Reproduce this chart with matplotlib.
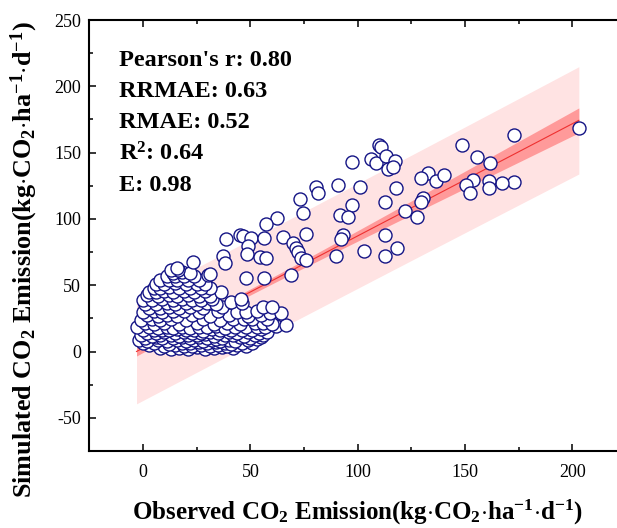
# Observed vs simulated CO2 emission, with linear fit, 95% CI and PI bands

import matplotlib
matplotlib.use('Agg')
import matplotlib.pyplot as plt
from matplotlib.ticker import MultipleLocator
import numpy as np

# ------ Data (observed, simulated) ------
# sparse points above the dense cluster
upper_pts = [
    (203, 168.3), (173, 163), (148.8, 155.7), (155.6, 146.5), (161.5, 142),
    (173, 128), (167, 126.8), (161, 128.8), (161, 123), (153.7, 129.3),
    (150.3, 125.6), (152.5, 119.8), (132.7, 134.9), (129.3, 131), (136.7, 128.8),
    (140.2, 133), (130.4, 115.5), (129.7, 113), (121.9, 106.2), (127.8, 101.7),
    (118, 123), (112.9, 112.5), (101, 124), (109.8, 155.7), (110.8, 154),
    (106, 145), (108.7, 142), (113.4, 147.7), (117.2, 143.9), (114.1, 137.6),
    (116.4, 139.4), (112.6, 87.9), (118.3, 78.3), (102.8, 75.8), (112.6, 72),
    (97.5, 142.7), (80.8, 123.8), (81.5, 119.8), (90.8, 125.6), (73, 115),
    (74.5, 104.2), (97.5, 110.5), (91.6, 103), (95.5, 101.7), (62.4, 100.5),
    (57.5, 96.2), (76.1, 89), (93.2, 87.8), (92.4, 84.6), (89.8, 72.3),
    (38.8, 84.6), (45.4, 87.9), (46.6, 87.1), (50.5, 85.4), (56.2, 85.4),
    (65.2, 86.6), (48.9, 79.6), (48.4, 73.3), (37.3, 72), (38.4, 67),
    (54.4, 71.5), (57.5, 70.3), (69.9, 81.6), (71.1, 77.8), (72.2, 75.2),
    (73.8, 70.3), (76.1, 69), (69.1, 57.7), (23.3, 67.7), (48.2, 55.2),
    (56.4, 55.2), (31.1, 58.4), (16.3, 61.5), (13.2, 61.5), (16, 62.7),
]

# dense cluster near the origin (lower band)
cluster_low = [
    (8, 2.4), (13, 1.8), (17, 2.9), (21, 2.2), (25, 3.1), (29, 1.9), (33, 2.6), (37, 3.4), (42, 2.5),
    (3, 4.6), (10, 4.1), (15, 4.8), (19, 3.9), (23, 4.5), (27, 5.2), (31, 4.3), (35, 4.9), (39, 4.2), (44, 5.1), (48, 4.4),
    (0, 6.3), (5, 6.8), (12, 5.9), (18, 6.6), (22, 6.1), (26, 7.0), (30, 6.4), (34, 6.9), (38, 6.2), (41, 6.0), (46, 6.7), (51, 6.3),
    (-2, 8.4), (2, 7.9), (7, 8.6), (11, 8.1), (16, 8.8), (20, 7.8), (24, 8.5), (28, 8.2), (32, 8.9), (36, 8.0), (40, 8.7), (43, 8.3), (49, 8.8), (53, 9.1),
    (1, 10.2), (6, 10.6), (9, 9.9), (14, 10.4), (18, 10.8), (22, 10.1), (26, 10.7), (30, 10.3), (34, 9.8), (37, 10.5), (45, 10.9), (50, 10.2), (55, 11.0),
    (-1, 12.4), (4, 12.1), (8, 12.8), (13, 12.2), (17, 11.9), (21, 12.6), (25, 12.3), (29, 12.9), (33, 12.0), (38, 12.5), (42, 12.2), (47, 11.8), (52, 12.7), (56, 12.4),
    (2, 14.3), (6, 13.9), (10, 14.6), (15, 14.1), (19, 14.8), (23, 14.2), (27, 13.8), (31, 14.5), (35, 14.0), (40, 14.7), (44, 14.3), (49, 14.9), (54, 14.1), (58, 14.6),
    (0, 16.2), (5, 16.6), (9, 15.9), (12, 16.4), (16, 16.8), (20, 16.1), (24, 16.5), (28, 15.8), (32, 16.7), (36, 16.3), (41, 15.9), (46, 16.6), (51, 16.2), (55, 17.1),
    (-3, 18.2), (3, 18.5), (7, 17.9), (11, 18.7), (14, 18.1), (18, 18.4), (22, 17.8), (26, 18.6), (30, 18.3), (34, 18.9), (38, 18.0), (43, 18.5), (48, 18.8), (53, 18.2), (57, 18.7), (62, 19.1),
    (1, 21.2), (5, 20.8), (10, 21.5), (17, 20.9), (25, 21.4), (33, 21.0), (39, 21.6), (45, 20.7), (52, 21.3), (56, 21.8), (60, 21.1), (66.8, 20.0),
    (-1, 24.1), (4, 24.6), (8, 23.8), (13, 24.4), (20, 24.0), (28, 24.7), (36, 23.9), (42, 24.3), (47, 24.8), (51, 24.2), (58, 24.5),
    (2, 27.3), (7, 26.8), (11, 27.5), (16, 27.0), (23, 27.6), (31, 26.9), (40, 27.4), (49, 27.1), (55, 27.7), (59, 28.8), (64.5, 28.8),
    (0, 30.2), (5, 30.6), (9, 29.8), (14, 30.4), (19, 30.9), (26, 30.1), (35, 30.5), (44, 29.9), (48.2, 30.0), (53, 30.7),
    (3, 33.1), (8, 32.7), (12, 33.4), (17, 32.9), (22, 33.3), (28, 32.8), (37, 33.5), (56, 33.8), (60, 33.8),
]

# upper part of the cluster
cluster_high = [
    (1, 36.2), (6, 35.8), (11, 36.5), (15, 36.0), (20, 36.6), (25, 35.9), (30, 36.4), (34, 36.1), (41, 37.6), (46, 36.3),
    (0, 39.1), (4, 38.7), (9, 39.4), (14, 38.9), (18, 39.5), (23, 38.8), (27, 39.2), (32, 39.6), (45.8, 40.0),
    (2, 42.3), (7, 41.8), (12, 42.5), (16, 42.0), (21, 42.6), (26, 41.9), (31, 42.2), (36.5, 44.6),
    (3, 45.2), (6, 44.8), (10, 45.5), (14, 45.0), (19, 45.4), (24, 44.9), (29, 45.3), (31, 47.6),
    (5, 48.1), (8, 47.7), (12, 48.4), (17, 47.9), (22, 48.3), (27, 48.0),
    (6, 51.2), (10, 50.8), (15, 51.4), (20, 50.9), (25, 51.3), (29, 50.7),
    (8, 54.1), (12, 53.7), (16, 54.3), (21, 53.9), (26, 54.2),
    (11, 56.8), (15, 57.2), (19, 56.6), (24, 57.0), (30.3, 57.7),
    (14, 59.3), (18, 59.8), (22, 59.1),
]

# regression line and residual spread
fit_intercept = 2.6
fit_slope = 0.846
fit_rmse = 20.0

stats_lines = ["Pearson's r: 0.80", "RRMAE: 0.63", "RMAE: 0.52", "R$^2$: 0.64", "E: 0.98"]

pts = np.array(cluster_low + cluster_high + upper_pts)
obs = pts[:, 0]
sim = pts[:, 1]

# ------ Confidence / prediction bands ------
n = len(obs)
sxx = np.sum((obs - obs.mean()) ** 2)
t = 1.968

xs = np.linspace(obs.min(), obs.max(), 200)
ys = fit_intercept + fit_slope * xs
ci = t * fit_rmse * np.sqrt(1 / n + (xs - obs.mean()) ** 2 / sxx)
pi = t * fit_rmse * np.sqrt(1 + 1 / n + (xs - obs.mean()) ** 2 / sxx)

# ------ Plot ------
plt.rcParams['font.family'] = 'Liberation Serif'
plt.rcParams['mathtext.fontset'] = 'custom'
plt.rcParams['mathtext.rm'] = 'Liberation Serif:bold'
plt.rcParams['mathtext.bf'] = 'Liberation Serif:bold'
plt.rcParams['mathtext.it'] = 'Liberation Serif:bold'
plt.rcParams['mathtext.default'] = 'bf'
plt.rcParams['axes.unicode_minus'] = False

fig = plt.figure(figsize=(6.17, 5.28), dpi=100)
ax = fig.add_axes([0.1447, 0.1458, 0.870, 0.8163])

ax.fill_between(xs, ys - pi, ys + pi, color='#ffe3e3', lw=0, zorder=1)
ax.fill_between(xs, ys - ci, ys + ci, color='#ff9a9a', lw=0, zorder=2)
ax.plot(xs, ys, color='#ee3030', lw=0.8, zorder=3)

ax.scatter(obs, sim, s=88, facecolors='white', edgecolors='#141485', linewidths=1.0, zorder=4)

ax.set_xlim(-25, 225)
ax.set_ylim(-75, 250)
ax.xaxis.set_major_locator(MultipleLocator(50))
ax.xaxis.set_minor_locator(MultipleLocator(25))
ax.yaxis.set_major_locator(MultipleLocator(50))
ax.yaxis.set_minor_locator(MultipleLocator(25))
ax.tick_params(which='both', direction='in', top=True, right=True, width=1.1)
ax.tick_params(which='major', length=5)
ax.tick_params(which='minor', length=3)
ax.tick_params(axis='x', labelsize=13, pad=9)
ax.tick_params(axis='y', labelsize=13, pad=6)
for sp in ax.spines.values():
    sp.set_linewidth(1.5)

for i, line in enumerate(stats_lines):
    ax.text(0.055, 0.907 - i * 0.0725, line, transform=ax.transAxes, fontsize=17.5,
            fontweight='bold', va='center', ha='left')

fig.text(0.579, 0.030, 'Observed CO$_2$ Emission(kg$\\cdot$CO$_2$$\\cdot$ha$^{-1}$$\\cdot$d$^{-1}$)',
         fontsize=18, fontweight='bold', ha='center', va='center')
fig.text(0.039, 0.508, 'Simulated CO$_2$ Emission(kg$\\cdot$CO$_2$$\\cdot$ha$^{-1}$$\\cdot$d$^{-1}$)',
         fontsize=18.8, fontweight='bold', ha='center', va='center', rotation=90)

plt.savefig('out.png', dpi=100)
